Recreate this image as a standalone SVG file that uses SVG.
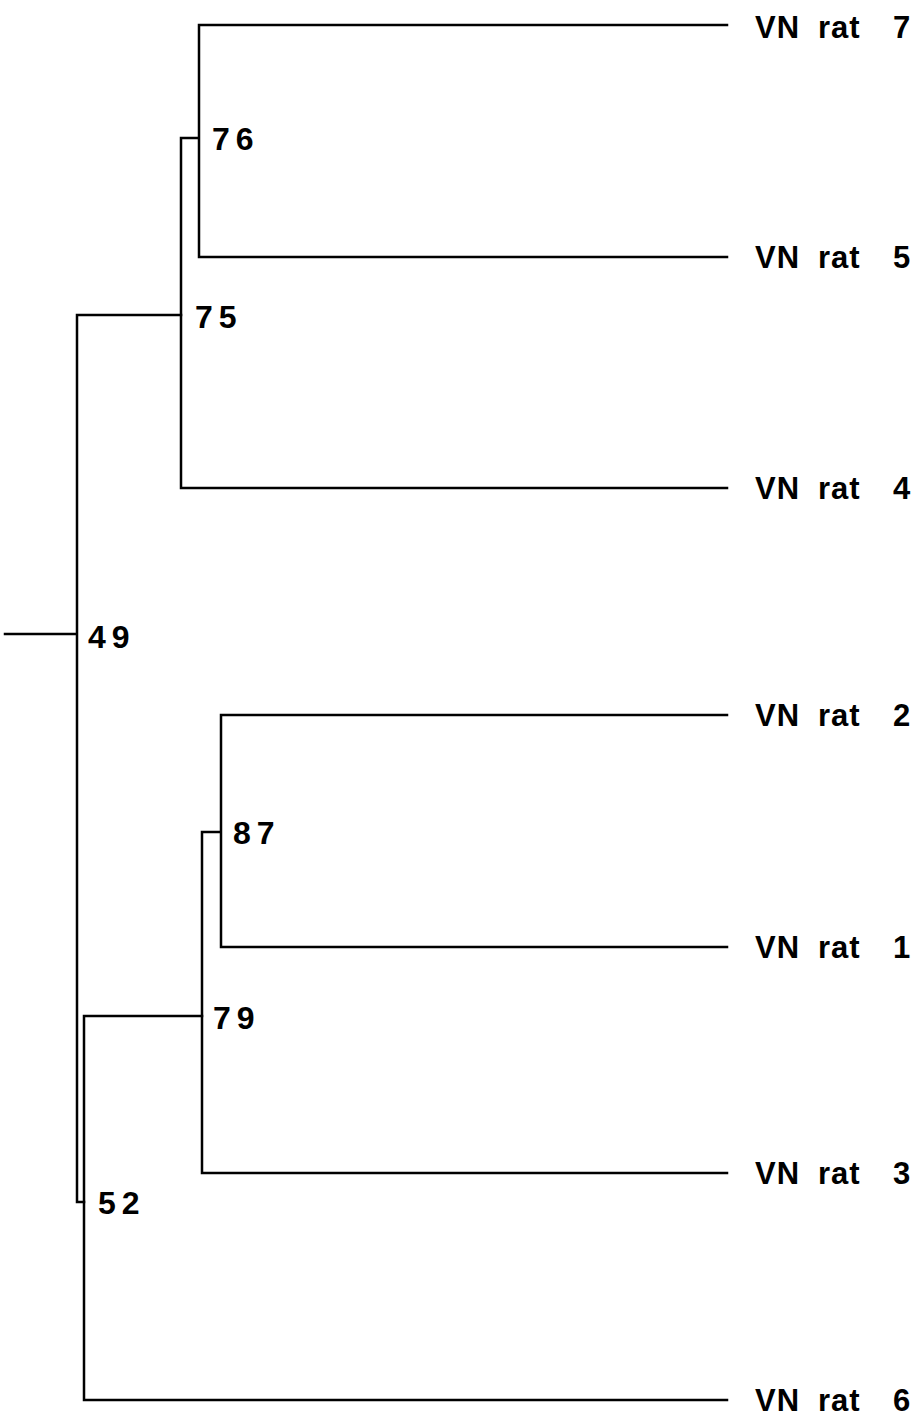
<svg xmlns="http://www.w3.org/2000/svg" width="915" height="1416" viewBox="0 0 915 1416">
<style>
.e{fill:none;stroke:#000;stroke-width:2.5;stroke-linecap:square}
.n{font-family:"Liberation Sans",Arial,sans-serif;font-weight:bold;font-size:32px;fill:#000;letter-spacing:6px}
.l{font-family:"Liberation Sans",Arial,sans-serif;font-weight:bold;font-size:31px;fill:#000;letter-spacing:1px}
</style>
<rect width="915" height="1416" fill="#fff"/>
<g id="connectors">
<path class="e" d="M5,634H77M77,315V1202M77,315H181M77,1202H84"/>
<path class="e" d="M181,138V488M181,138H199M199,25V257M199,25H727M199,257H727M181,488H727"/>
<path class="e" d="M84,1016V1400M84,1016H202M84,1400H727"/>
<path class="e" d="M202,832V1173M202,832H221M221,715V947M221,715H727M221,947H727M202,1173H727"/>
</g>
<g id="n49"><text class="n" x="88" y="648">49</text></g>
<g id="n75"><text class="n" x="195" y="328">75</text></g>
<g id="n76"><text class="n" x="212" y="150">76</text></g>
<g id="n52"><text class="n" x="98" y="1214">52</text></g>
<g id="n79"><text class="n" x="213" y="1029">79</text></g>
<g id="n87"><text class="n" x="233" y="844">87</text></g>
<g id="leaf7"><text class="l" y="38"><tspan x="755">VN</tspan><tspan x="818">rat</tspan><tspan x="893">7</tspan></text></g>
<g id="leaf5"><text class="l" y="268"><tspan x="755">VN</tspan><tspan x="818">rat</tspan><tspan x="893">5</tspan></text></g>
<g id="leaf4"><text class="l" y="499"><tspan x="755">VN</tspan><tspan x="818">rat</tspan><tspan x="893">4</tspan></text></g>
<g id="leaf2"><text class="l" y="726"><tspan x="755">VN</tspan><tspan x="818">rat</tspan><tspan x="893">2</tspan></text></g>
<g id="leaf1"><text class="l" y="958"><tspan x="755">VN</tspan><tspan x="818">rat</tspan><tspan x="893">1</tspan></text></g>
<g id="leaf3"><text class="l" y="1184"><tspan x="755">VN</tspan><tspan x="818">rat</tspan><tspan x="893">3</tspan></text></g>
<g id="leaf6"><text class="l" y="1411"><tspan x="755">VN</tspan><tspan x="818">rat</tspan><tspan x="893">6</tspan></text></g>
</svg>
